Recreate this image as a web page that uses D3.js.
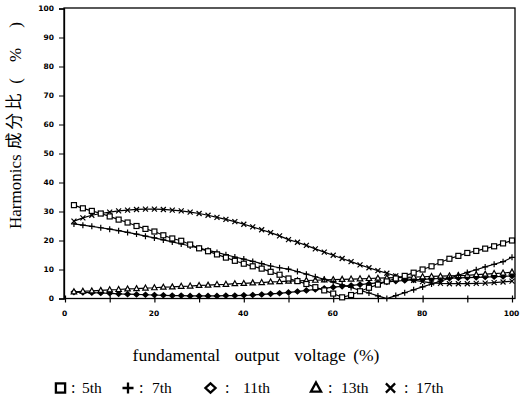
<!DOCTYPE html>
<html><head><meta charset="utf-8">
<script src="https://cdn.jsdelivr.net/npm/d3@7"></script>
<style>body{margin:0;background:#fff}</style>
</head><body>
<svg id="c" width="520" height="408"></svg>
<script>
const xs = d3.range(2, 101, 2);
const h5 = [32.2,31.1,30.2,29.3,28.3,27.2,26.2,25.0,24.0,23.1,21.8,20.7,19.9,18.6,17.3,16.3,15.2,14.1,13.0,12.0,11.1,10.3,9.2,8.2,6.9,6.0,5.0,3.9,2.8,1.7,0.4,1.2,2.5,3.7,4.8,5.9,6.9,7.8,8.9,10.0,11.1,12.5,13.7,14.7,15.7,16.4,17.2,18.0,19.0,20.0];
const h7 = [25.7,25.3,24.9,24.4,23.9,23.4,22.8,22.2,21.5,20.9,20.2,19.5,18.8,18.1,17.4,16.6,15.9,15.1,14.3,13.6,12.8,12.0,11.2,10.6,10.1,9.3,8.4,7.5,6.6,5.6,4.7,3.8,2.8,1.9,0.9,0.0,1.0,2.0,3.0,4.0,5.0,6.0,7.0,8.0,9.0,9.9,10.9,11.8,12.7,14.2];
const h11 = [2.2,2.1,2.0,1.9,1.8,1.6,1.5,1.4,1.3,1.2,1.1,1.0,1.0,0.9,0.9,0.9,0.9,1.0,1.0,1.1,1.2,1.4,1.6,1.8,2.1,2.4,2.8,3.1,3.5,3.9,4.2,4.5,4.8,5.1,5.4,5.7,6.0,6.2,6.4,6.6,6.8,6.9,7.0,7.1,7.2,7.3,7.4,7.5,7.6,7.8];
const h13 = [2.3,2.5,2.6,2.8,3.0,3.1,3.3,3.4,3.6,3.7,3.9,4.0,4.2,4.3,4.5,4.6,4.8,4.9,5.1,5.2,5.4,5.5,5.7,5.8,6.0,6.1,6.2,6.3,6.4,6.5,6.6,6.7,6.8,6.9,7.0,7.1,7.2,7.3,7.4,7.5,7.6,7.7,7.8,7.9,8.0,8.2,8.4,8.6,8.8,9.1];
const h17 = [26.7,27.8,28.7,29.3,29.8,30.2,30.5,30.7,30.8,30.8,30.7,30.5,30.2,29.8,29.3,28.7,28.0,27.3,26.5,25.6,24.7,23.7,22.7,21.6,20.3,19.4,18.3,17.1,16.0,14.9,13.8,12.7,11.6,10.6,9.6,8.7,7.8,7.0,6.3,5.8,5.4,5.2,5.1,5.1,5.1,5.2,5.3,5.5,5.7,6.0];
const seriesNames = ["5th","7th","11th","13th","17th"];
const seriesSymbols = ["square","plus","diamond","triangle","cross"];
const xTicks = [0,10,20,30,40,50,60,70,80,90,100];
const xTickLabels = ["0","","20","","40","","60","","80","","100"];
const yTicks = [0,10,20,30,40,50,60,70,80,90,100];
const yTitleEn = "Harmonics";
const yTitleCjk = "成分比";
const yTitleUnit = ["(", "%", ")"];
const xTitle = "fundamental  output  voltage (%)";

const svg = d3.select("#c");
const x = d3.scaleLinear().domain([0,100]).range([65,512]);
const y = d3.scaleLinear().domain([0,100]).range([298.5,8.5]);
const serif = "'Liberation Serif','Times New Roman',serif";

// frame
svg.append("rect").attr("x",64).attr("y",8).attr("width",451).attr("height",290.5)
  .attr("fill","none").attr("stroke","#000").attr("stroke-width",1.3);

// y axis
const ya = svg.append("g").attr("transform","translate(64,0)")
  .call(d3.axisLeft(y).tickValues(yTicks).tickSize(5).tickPadding(5));
ya.select(".domain").attr("stroke-width",1.3);
ya.selectAll("text").attr("font-family","'DejaVu Sans',sans-serif").attr("font-weight","bold").attr("font-size",7.5).attr("fill","#000");
// x axis
const xa = svg.append("g").attr("transform","translate(0,298.5)")
  .call(d3.axisBottom(x).tickValues(xTicks).tickFormat((d,i)=>xTickLabels[i]).tickSize(4).tickPadding(8));
xa.select(".domain").remove();
xa.selectAll(".tick line").attr("y1",-3).attr("stroke-width",1.2);
xa.selectAll("text").attr("font-family","'DejaVu Sans',sans-serif").attr("font-weight","bold").attr("font-size",7.5).attr("fill","#000")
  .attr("transform","translate(-1,0)");

const all = [h5,h7,h11,h13,h17];
const line = d3.line().x((d,i)=>x(xs[i])).y(d=>y(d));
const g = svg.append("g");
all.forEach((s,k)=>{
  g.append("path").attr("d",line(s)).attr("fill","none").attr("stroke","#000").attr("stroke-width",1.2);
});
function marker(sel, sym, cx, cy, r, sw, fillDia){
  if(sym==="square") sel.append("rect").attr("x",cx-r).attr("y",cy-r).attr("width",2*r).attr("height",2*r).attr("fill","#fff").attr("stroke","#000").attr("stroke-width",sw);
  else if(sym==="plus") sel.append("path").attr("d",`M${cx-r*1.2},${cy}H${cx+r*1.2}M${cx},${cy-r*1.2}V${cy+r*1.2}`).attr("stroke","#000").attr("stroke-width",sw);
  else if(sym==="cross") sel.append("path").attr("d",`M${cx-r},${cy-r}L${cx+r},${cy+r}M${cx-r},${cy+r}L${cx+r},${cy-r}`).attr("stroke","#000").attr("stroke-width",sw);
  else if(sym==="diamond") sel.append("path").attr("d",`M${cx},${cy-r}L${cx+r*1.1},${cy}L${cx},${cy+r}L${cx-r*1.1},${cy}Z`).attr("fill",fillDia?"#000":"#fff").attr("stroke","#000").attr("stroke-width",sw);
  else if(sym==="triangle") sel.append("path").attr("d",`M${cx},${cy-r*1.2}L${cx+r*1.1},${cy+r*0.8}L${cx-r*1.1},${cy+r*0.8}Z`).attr("fill","#fff").attr("stroke","#000").attr("stroke-width",sw);
}
[4,2,3,1,0].forEach(k=>{
  all[k].forEach((v,i)=>marker(g, seriesSymbols[k], x(xs[i]), y(v), 2.5, 1.2, true));
});

// y title
const yt = svg.append("g").attr("transform","translate(21,0) rotate(-90)");
yt.append("text").attr("x",-229).attr("y",0).attr("font-family",serif).attr("font-size",17).text(yTitleEn);
yt.append("text").attr("x",-149).attr("y",-1).attr("font-family","'Noto Sans CJK JP',sans-serif").attr("font-size",16.5).attr("letter-spacing",3).text(yTitleCjk);
const unitPos = [-81,-55,-25];
yTitleUnit.forEach((t,i)=>{
  yt.append("text").attr("x",unitPos[i]).attr("y",0).attr("text-anchor","middle").attr("font-family",serif).attr("font-size",17).text(t);
});

// x title
svg.append("text").attr("x",256).attr("y",361).attr("text-anchor","middle")
  .attr("font-family",serif).attr("font-size",17.5).attr("word-spacing",3).style("white-space","pre").text(xTitle);

// legend
const legGlyphX = [60.5,128,210.5,316,390.5];
const legColonX = [71,139,225,328,404];
const legTextX = [82,152,243,341,416];
const lg = svg.append("g");
seriesNames.forEach((n,i)=>{
  marker(lg, seriesSymbols[i], legGlyphX[i], 388, 4.6, 2.3, false);
  lg.append("text").attr("x",legColonX[i]).attr("y",393).attr("font-family",serif).attr("font-size",16).text(":");
  lg.append("text").attr("x",legTextX[i]).attr("y",393).attr("font-family",serif).attr("font-size",15.5).text(n);
});
</script>
</body></html>
